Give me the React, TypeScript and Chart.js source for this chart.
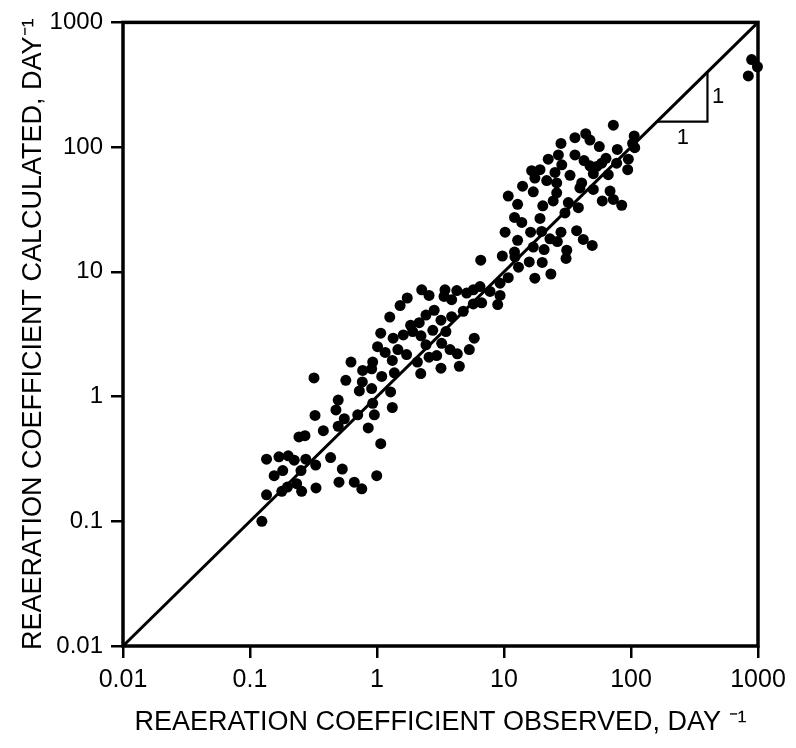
import React, { useEffect, useRef } from "react";
import { Chart, registerables } from "chart.js";

Chart.register(...registerables);

// Observed (x) and calculated (y) reaeration coefficients, day^-1
const observed = [
  0.243, 0.135, 0.169, 0.2, 0.223, 0.275, 0.329, 0.431, 0.155, 0.181, 0.252, 0.533, 0.995, 0.135, 0.178, 0.197,
  0.233, 0.255, 0.331, 0.502, 0.662, 0.759, 0.124,
  6.56, 9.7, 12.2, 15.8, 20.0, 30.8, 13.0, 10.8, 17.5, 23.4, 9.31, 2.25, 2.57, 3.43, 3.37, 4.25, 5.08, 5.73,
  6.47, 7.76, 9.31, 3.87, 5.73, 6.67, 8.92, 1.73, 1.52, 1.26, 2.43, 2.82, 3.19, 4.78, 3.87, 2.15, 1.84, 1.07,
  1.34, 1.61, 1.91, 2.22, 2.75, 3.49, 5.83, 1.01, 1.16, 1.46, 1.71, 2.43, 3.23, 3.76, 4.29, 5.33, 0.624, 0.925,
  1.32, 2.08, 2.57, 2.95, 0.771, 0.908, 1.09, 1.37, 2.21, 3.19, 4.45, 0.319, 0.568, 0.766, 0.908, 0.726, 1.28,
  0.495, 0.925, 0.475, 1.32, 0.325, 0.553, 0.705, 0.953, 0.495, 0.853, 0.378, 0.271, 1.07,
  72.6, 36.2, 44.0, 47.5, 56.3, 106, 103, 107, 78.0, 28.1, 26.8, 22.3, 36.2, 42.7, 63.5, 95.3, 28.5, 47.5, 53.7,
  58.8, 16.5, 19.2, 25.2, 77.1, 94.2, 66.2, 50.5, 33.1, 17.5, 21.7, 26.0, 40.9, 14.0, 17.0, 26.0, 39.6, 50.5,
  68.4, 10.8, 24.4, 32.1, 38.5, 59.4, 72.6, 84.5, 12.8, 20.2, 30.2, 12.1, 13.8, 19.2, 10.2, 16.2, 19.8, 28.1,
  37.3, 12.8, 23.0, 26.3, 42.1, 49.5, 12.1, 17.0, 20.7, 31.2,
  891, 990, 839,
];

const calculated = [
  0.475, 0.315, 0.329, 0.335, 0.309, 0.315, 0.282, 0.324, 0.232, 0.255, 0.255, 0.262, 0.232, 0.163, 0.174, 0.188,
  0.2, 0.174, 0.185, 0.206, 0.206, 0.182, 0.1,
  12.4, 13.4, 13.2, 12.0, 11.9, 12.8, 10.9, 8.98, 8.89, 9.61, 8.11, 7.18, 6.47, 7.18, 6.35, 7.08, 6.76, 7.18,
  7.62, 6.96, 6.47, 5.98, 5.53, 5.64, 5.46, 6.17, 5.36, 4.34, 4.5, 4.92, 4.1, 4.83, 4.37, 3.91, 3.73, 3.22,
  2.94, 3.12, 3.32, 3.07, 3.4, 3.32, 2.94, 2.51, 2.26, 2.38, 2.17, 2.6, 2.67, 2.38, 2.2, 2.38, 1.89, 1.89,
  1.95, 1.89, 2.07, 2.13, 1.62, 1.67, 1.45, 1.55, 1.53, 1.69, 1.75, 1.41, 1.35, 1.31, 1.16, 1.11, 1.09,
  0.938, 0.883, 0.782, 0.817, 0.706, 0.664, 0.714, 0.714, 0.578, 0.56, 0.533, 0.486, 0.419,
  150, 119, 128, 114, 101, 123, 107, 98.9, 95.9, 107, 86.5, 80.0, 86.5, 78.0, 81.4, 80.0, 72.1, 70.8, 70.0,
  74.3, 64.7, 65.9, 62.7, 74.3, 65.9, 60.1, 61.2, 59.4, 56.5, 53.9, 51.6, 51.6, 48.6, 43.8, 43.0, 47.1, 45.8,
  44.4, 40.5, 37.0, 35.9, 32.7, 37.0, 38.1, 34.2, 34.8, 33.8, 29.7, 27.3, 24.9, 26.8, 20.8, 20.8, 21.1, 20.8,
  21.4, 17.9, 18.4, 17.5, 18.2, 16.3, 14.4, 15.8, 15.1, 14.9,
  503, 441, 372,
];

const tickValues = [0.01, 0.1, 1, 10, 100, 1000];
const tickLabels = ["0.01", "0.1", "1", "10", "100", "1000"];

// 1:1 line
const lineX = [0.01, 1000];
const lineY = [0.01, 1000];

// slope triangle
const triX = [160, 400, 400];
const triY = [160, 160, 400];
const triLabels = ["1", "1"];
const triLabelX = [256, 486];
const triLabelY = [119, 251];

const xTitle = "REAERATION COEFFICIENT OBSERVED, DAY \u207B\u00B9";
const yTitle = "REAERATION COEFFICIENT CALCULATED, DAY\u207B\u00B9";

const FONT = "'Liberation Sans', Arial, sans-serif";

const framePlugin = {
  id: "frame",
  afterDraw(chart: any) {
    const { ctx, chartArea } = chart;
    ctx.save();
    ctx.strokeStyle = "#000";
    ctx.lineWidth = 3.5;
    ctx.strokeRect(chartArea.left, chartArea.top, chartArea.right - chartArea.left, chartArea.bottom - chartArea.top);
    const xs = chart.scales.x;
    const ys = chart.scales.y;
    ctx.fillStyle = "#000";
    ctx.font = `22px ${FONT}`;
    ctx.textAlign = "center";
    ctx.textBaseline = "middle";
    triLabels.forEach((t, i) => {
      ctx.fillText(t, xs.getPixelForValue(triLabelX[i]), ys.getPixelForValue(triLabelY[i]));
    });
    ctx.restore();
  },
};

function setTicks(scale: any) {
  scale.ticks = tickValues.map((v) => ({ value: v }));
}

export default function App() {
  const ref = useRef<HTMLCanvasElement | null>(null);
  useEffect(() => {
    if (!ref.current) return;
    const chart = new Chart(ref.current, {
      type: "scatter",
      data: {
        datasets: [
          {
            type: "line",
            data: lineX.map((x, i) => ({ x, y: lineY[i] })),
            borderColor: "#000",
            borderWidth: 3,
            pointRadius: 0,
            fill: false,
            clip: false,
          } as any,
          {
            type: "line",
            data: triX.map((x, i) => ({ x, y: triY[i] })),
            borderColor: "#000",
            borderWidth: 2.2,
            pointRadius: 0,
            fill: false,
          } as any,
          {
            data: observed.map((x, i) => ({ x, y: calculated[i] })),
            backgroundColor: "#000",
            borderColor: "#000",
            borderWidth: 0,
            pointRadius: 5.5,
            clip: false,
          } as any,
        ],
      },
      options: {
        responsive: false,
        animation: false,
        layout: { padding: { top: 14, right: 38, left: 0, bottom: 0 } },
        plugins: { legend: { display: false }, tooltip: { enabled: false } },
        scales: {
          x: {
            type: "logarithmic",
            min: 0.01,
            max: 1000,
            afterBuildTicks: setTicks,
            afterFit: (s: any) => {
              s.height = 102;
            },
            border: { display: false },
            grid: { drawOnChartArea: false, drawTicks: true, tickLength: 12, color: "#000", lineWidth: 2.5 },
            ticks: {
              autoSkip: false,
              maxRotation: 0,
              padding: 7,
              color: "#000",
              font: { family: FONT, size: 25 },
              callback: (_v: any, i: number) => tickLabels[i],
            },
            title: {
              display: true,
              text: xTitle,
              color: "#000",
              font: { family: FONT, size: 27 },
              padding: { top: 0, bottom: 9 },
            },
          },
          y: {
            type: "logarithmic",
            min: 0.01,
            max: 1000,
            afterBuildTicks: setTicks,
            afterFit: (s: any) => {
              s.width = 123;
            },
            border: { display: false },
            grid: { drawOnChartArea: false, drawTicks: true, tickLength: 12, color: "#000", lineWidth: 2.5 },
            ticks: {
              autoSkip: false,
              padding: 8,
              color: "#000",
              font: { family: FONT, size: 24 },
              callback: (_v: any, i: number) => tickLabels[i],
            },
            title: {
              display: true,
              text: yTitle,
              color: "#000",
              font: { family: FONT, size: 27 },
              padding: { top: 17, bottom: 0 },
            },
          },
        },
      } as any,
      plugins: [framePlugin],
    });
    return () => chart.destroy();
  }, []);
  return (
    <div style={{ position: "fixed", left: 0, top: 0, width: 796, height: 748, background: "#fff" }}>
      <canvas ref={ref} width={796} height={748} style={{ display: "block" }} />
    </div>
  );
}
